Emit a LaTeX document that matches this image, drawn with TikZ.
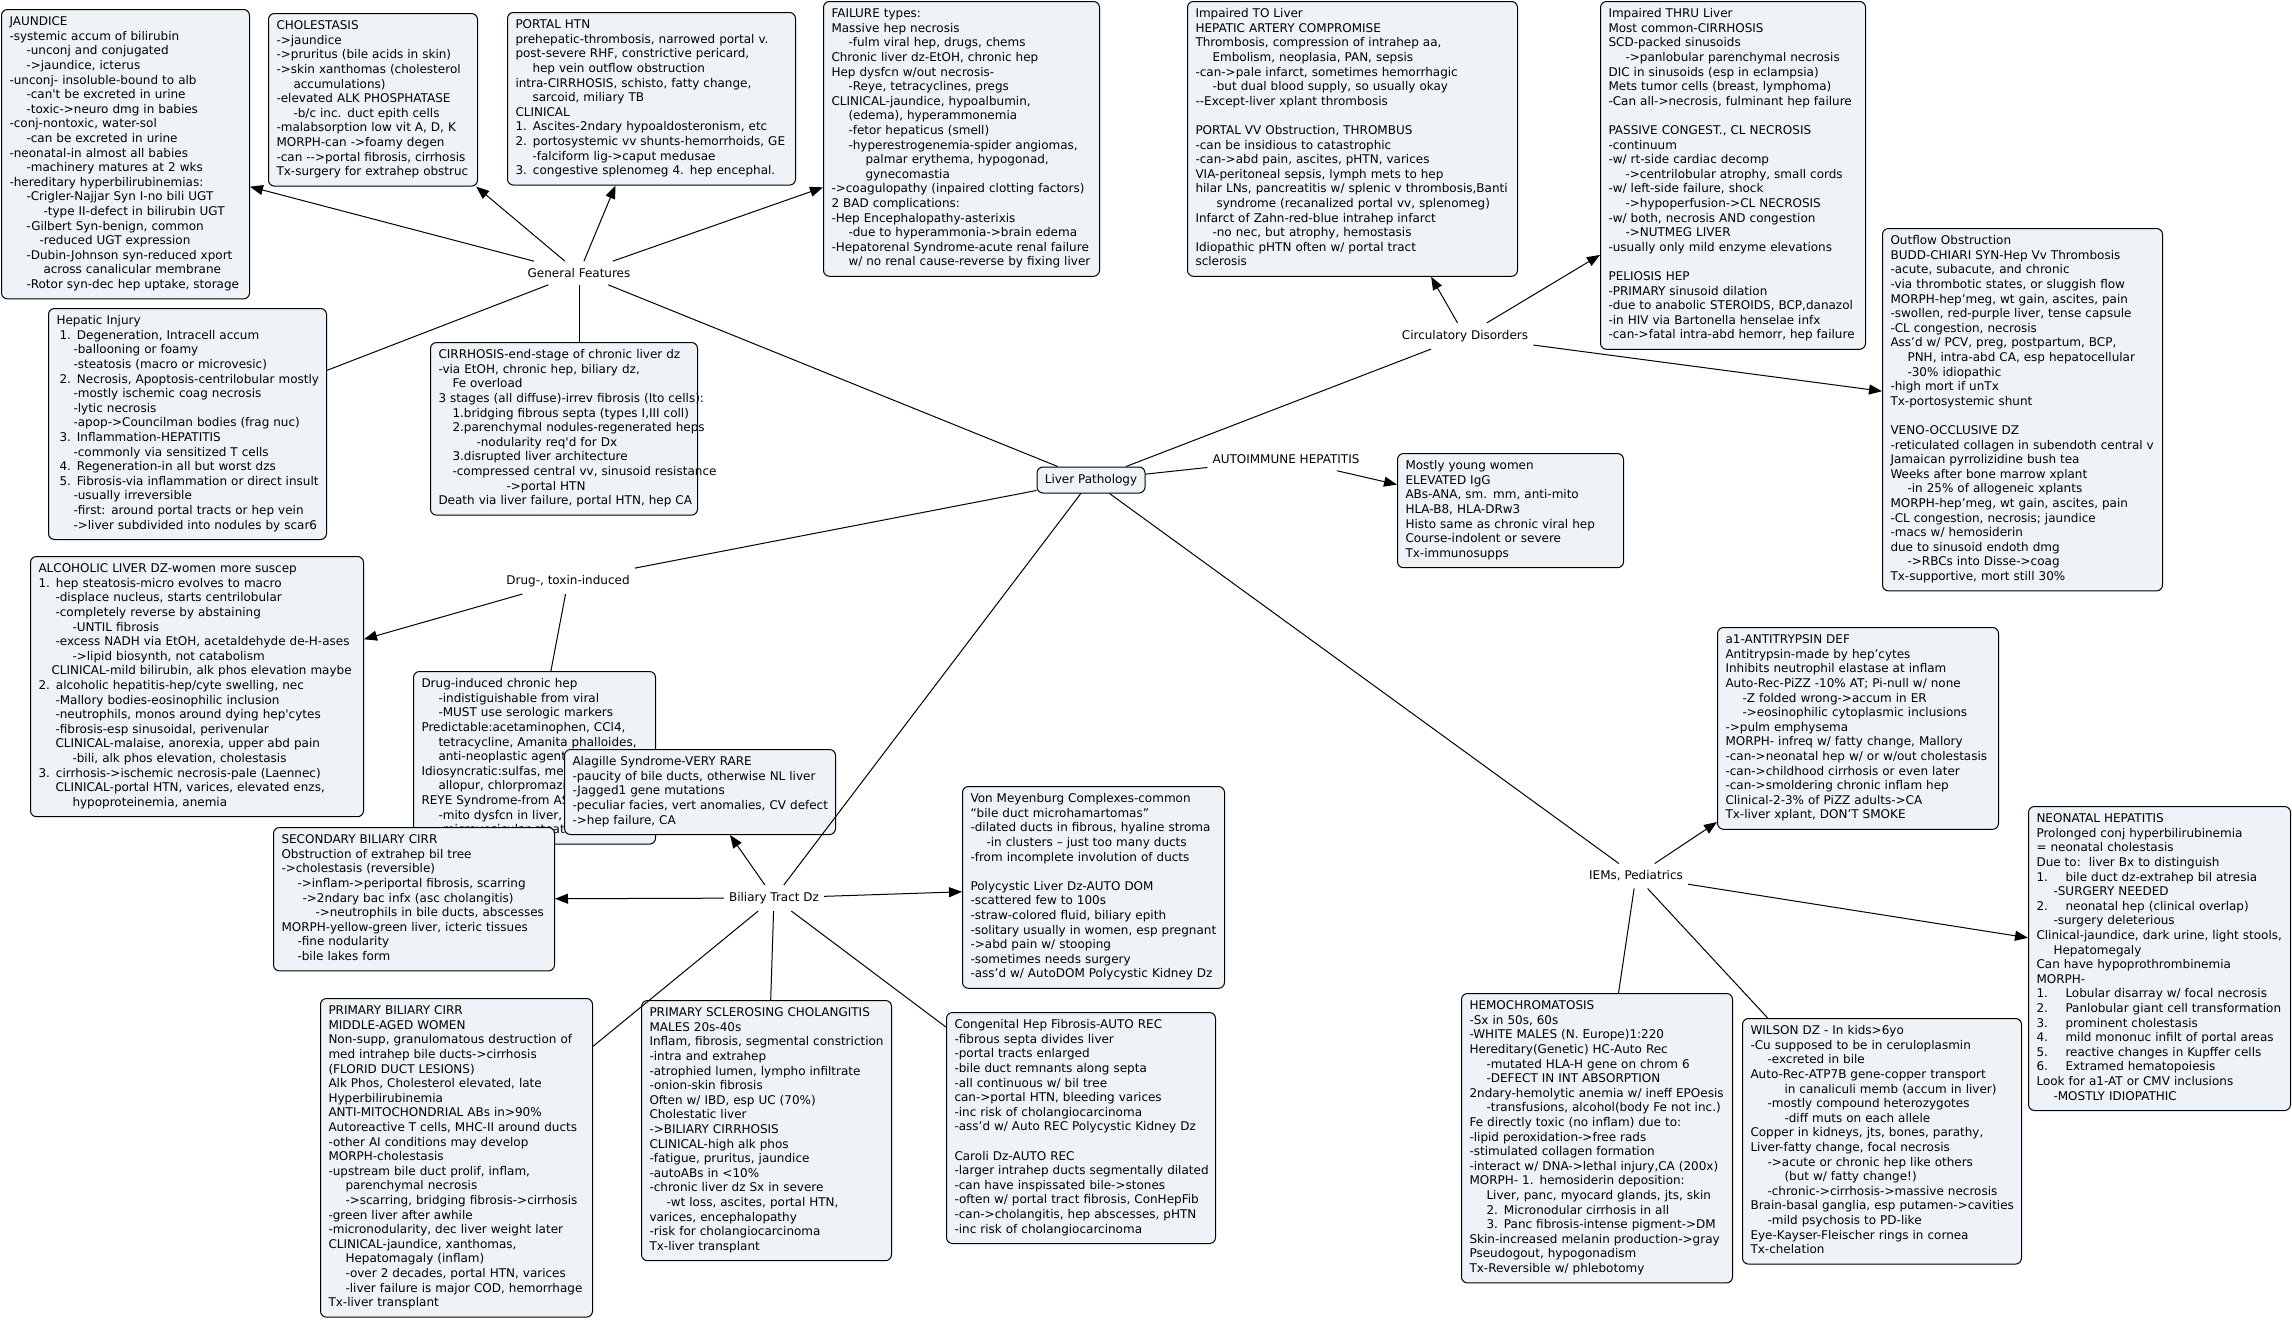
\documentclass[tikz,border=0pt]{standalone}
\usepackage{fontspec}
\newfontfamily\vf{DejaVu Sans}
\usetikzlibrary{arrows.meta}
\definecolor{boxfill}{RGB}{237,243,246}
\newcommand\Ind[1]{\hspace*{#1pt}}
\newcommand\Tb[1]{\begin{tabular}{@{}l@{}}#1\end{tabular}}
\begin{document}
\begin{tikzpicture}[x=1pt,y=-1pt,
  box/.style={draw, rounded corners=6pt, fill=boxfill, line width=1pt, anchor=north west,
    inner xsep=8pt, inner ysep=6pt, align=left, text width=#1pt,
    font=\vf\fontsize{12}{14.6}\selectfont},
  lbl/.style={inner xsep=5pt, inner ysep=7pt, font=\vf\fontsize{12}{14.6}\selectfont},
  con/.style={line width=1pt},
  arr/.style={line width=1pt, -{Triangle[length=13pt,width=10pt]}}]
\fill[white] (0,0) rectangle (2292,1320);
\useasboundingbox (0,0) rectangle (2292,1320);

% ---------- boxes ----------
\node[box=232] (jaun) at (1,9) {\Tb{JAUNDICE\\
-systemic accum of bilirubin\\
\Ind{17}-unconj and conjugated\\
\Ind{17}->jaundice, icterus\\
-unconj- insoluble-bound to alb\\
\Ind{17}-can't be excreted in urine\\
\Ind{17}-toxic->neuro dmg in babies\\
-conj-nontoxic, water-sol\\
\Ind{17}-can be excreted in urine\\
-neonatal-in almost all babies\\
\Ind{17}-machinery matures at 2 wks\\
-hereditary hyperbilirubinemias:\\
\Ind{17}-Crigler-Najjar Syn I-no bili UGT\\
\Ind{34}-type II-defect in bilirubin UGT\\
\Ind{17}-Gilbert Syn-benign, common\\
\Ind{30}-reduced UGT expression\\
\Ind{17}-Dubin-Johnson syn-reduced xport\\
\Ind{34}across canalicular membrane\\
\Ind{17}-Rotor syn-dec hep uptake, storage}};

\node[box=193] (chol) at (268,13) {\Tb{CHOLESTASIS\\
->jaundice\\
->pruritus (bile acids in skin)\\
->skin xanthomas (cholesterol\\
\Ind{17}accumulations)\\
-elevated ALK PHOSPHATASE\\
\Ind{17}-b/c inc. duct epith cells\\
-malabsorption low vit A, D, K\\
MORPH-can ->foamy degen\\
-can -->portal fibrosis, cirrhosis\\
Tx-surgery for extrahep obstruc}};

\node[box=272] (port) at (507,12) {\Tb{PORTAL HTN\\
prehepatic-thrombosis, narrowed portal v.\\
post-severe RHF, constrictive pericard,\\
\Ind{17}hep vein outflow obstruction\\
intra-CIRRHOSIS, schisto, fatty change,\\
\Ind{17}sarcoid, miliary TB\\
CLINICAL\\
1. Ascites-2ndary hypoaldosteronism, etc\\
2. portosystemic vv shunts-hemorrhoids, GE\\
\Ind{17}-falciform lig->caput medusae\\
3. congestive splenomeg 4. hep encephal.}};

\node[box=260] (fail) at (823,1) {\Tb{FAILURE types:\\
Massive hep necrosis\\
\Ind{17}-fulm viral hep, drugs, chems\\
Chronic liver dz-EtOH, chronic hep\\
Hep dysfcn w/out necrosis-\\
\Ind{17}-Reye, tetracyclines, pregs\\
CLINICAL-jaundice, hypoalbumin,\\
\Ind{17}(edema), hyperammonemia\\
\Ind{17}-fetor hepaticus (smell)\\
\Ind{17}-hyperestrogenemia-spider angiomas,\\
\Ind{34}palmar erythema, hypogonad,\\
\Ind{34}gynecomastia\\
->coagulopathy (inpaired clotting factors)\\
2 BAD complications:\\
-Hep Encephalopathy-asterixis\\
\Ind{17}-due to hyperammonia->brain edema\\
-Hepatorenal Syndrome-acute renal failure\\
\Ind{17}w/ no renal cause-reverse by fixing liver}};

\node[box=314] (impto) at (1187,1) {\Tb{Impaired TO Liver\\
HEPATIC ARTERY COMPROMISE\\
Thrombosis, compression of intrahep aa,\\
\Ind{17}Embolism, neoplasia, PAN, sepsis\\
-can->pale infarct, sometimes hemorrhagic\\
\Ind{17}-but dual blood supply, so usually okay\\
--Except-liver xplant thrombosis\\
\\
PORTAL VV Obstruction, THROMBUS\\
-can be insidious to catastrophic\\
-can->abd pain, ascites, pHTN, varices\\
VIA-peritoneal sepsis, lymph mets to hep\\
hilar LNs, pancreatitis w/ splenic v thrombosis,Banti\\
\Ind{21}syndrome (recanalized portal vv, splenomeg)\\
Infarct of Zahn-red-blue intrahep infarct\\
\Ind{17}-no nec, but atrophy, hemostasis\\
Idiopathic pHTN often w/ portal tract\\
sclerosis}};

\node[box=249] (thru) at (1600,1) {\Tb{Impaired THRU Liver\\
Most common-CIRRHOSIS\\
SCD-packed sinusoids\\
\Ind{17}->panlobular parenchymal necrosis\\
DIC in sinusoids (esp in eclampsia)\\
Mets tumor cells (breast, lymphoma)\\
-Can all->necrosis, fulminant hep failure\\
\\
PASSIVE CONGEST., CL NECROSIS\\
-continuum\\
-w/ rt-side cardiac decomp\\
\Ind{17}->centrilobular atrophy, small cords\\
-w/ left-side failure, shock\\
\Ind{17}->hypoperfusion->CL NECROSIS\\
-w/ both, necrosis AND congestion\\
\Ind{17}->NUTMEG LIVER\\
-usually only mild enzyme elevations\\
\\
PELIOSIS HEP\\
-PRIMARY sinusoid dilation\\
-due to anabolic STEROIDS, BCP,danazol\\
-in HIV via Bartonella henselae infx\\
-can->fatal intra-abd hemorr, hep failure}};

\node[box=264] (outf) at (1882,228) {\Tb{Outflow Obstruction\\
BUDD-CHIARI SYN-Hep Vv Thrombosis\\
-acute, subacute, and chronic\\
-via thrombotic states, or sluggish flow\\
MORPH-hep’meg, wt gain, ascites, pain\\
-swollen, red-purple liver, tense capsule\\
-CL congestion, necrosis\\
Ass’d w/ PCV, preg, postpartum, BCP,\\
\Ind{17}PNH, intra-abd CA, esp hepatocellular\\
\Ind{17}-30\% idiopathic\\
-high mort if unTx\\
Tx-portosystemic shunt\\
\\
VENO-OCCLUSIVE DZ\\
-reticulated collagen in subendoth central v\\
Jamaican pyrrolizidine bush tea\\
Weeks after bone marrow xplant\\
\Ind{17}-in 25\% of allogeneic xplants\\
MORPH-hep’meg, wt gain, ascites, pain\\
-CL congestion, necrosis; jaundice\\
-macs w/ hemosiderin\\
due to sinusoid endoth dmg\\
\Ind{17}->RBCs into Disse->coag\\
Tx-supportive, mort still 30\%}};

\node[box=210] (autob) at (1397,453) {\Tb{Mostly young women\\
ELEVATED IgG\\
ABs-ANA, sm. mm, anti-mito\\
HLA-B8, HLA-DRw3\\
Histo same as chronic viral hep\\
Course-indolent or severe\\
Tx-immunosupps}};

\node[box=262] (hinj) at (48,308) {\Tb{Hepatic Injury\\
\Ind{3}1. Degeneration, Intracell accum\\
\Ind{17}-ballooning or foamy\\
\Ind{17}-steatosis (macro or microvesic)\\
\Ind{3}2. Necrosis, Apoptosis-centrilobular mostly\\
\Ind{17}-mostly ischemic coag necrosis\\
\Ind{17}-lytic necrosis\\
\Ind{17}-apop->Councilman bodies (frag nuc)\\
\Ind{3}3. Inflammation-HEPATITIS\\
\Ind{17}-commonly via sensitized T cells\\
\Ind{3}4. Regeneration-in all but worst dzs\\
\Ind{3}5. Fibrosis-via inflammation or direct insult\\
\Ind{17}-usually irreversible\\
\Ind{17}-first: around portal tracts or hep vein\\
\Ind{17}->liver subdivided into nodules by scar6}};

\node[box=251] (cirr) at (430,342) {\Tb{CIRRHOSIS-end-stage of chronic liver dz\\
-via EtOH, chronic hep, biliary dz,\\
\Ind{14}Fe overload\\
3 stages (all diffuse)-irrev fibrosis (Ito cells):\\
\Ind{14}1.bridging fibrous septa (types I,III coll)\\
\Ind{14}2.parenchymal nodules-regenerated heps\\
\Ind{38}-nodularity req'd for Dx\\
\Ind{14}3.disrupted liver architecture\\
\Ind{14}-compressed central vv, sinusoid resistance\\
\Ind{68}->portal HTN\\
Death via liver failure, portal HTN, hep CA}};

\node[box=317] (alc) at (30,556) {\Tb{ALCOHOLIC LIVER DZ-women more suscep\\
1. hep steatosis-micro evolves to macro\\
\Ind{17}-displace nucleus, starts centrilobular\\
\Ind{17}-completely reverse by abstaining\\
\Ind{34}-UNTIL fibrosis\\
\Ind{17}-excess NADH via EtOH, acetaldehyde de-H-ases\\
\Ind{34}->lipid biosynth, not catabolism\\
\Ind{13}CLINICAL-mild bilirubin, alk phos elevation maybe\\
2. alcoholic hepatitis-hep/cyte swelling, nec\\
\Ind{17}-Mallory bodies-eosinophilic inclusion\\
\Ind{17}-neutrophils, monos around dying hep'cytes\\
\Ind{17}-fibrosis-esp sinusoidal, perivenular\\
\Ind{17}CLINICAL-malaise, anorexia, upper abd pain\\
\Ind{34}-bili, alk phos elevation, cholestasis\\
3. cirrhosis->ischemic necrosis-pale (Laennec)\\
\Ind{17}CLINICAL-portal HTN, varices, elevated enzs,\\
\Ind{34}hypoproteinemia, anemia}};

\node[box=226] (dind) at (413,671) {\Tb{Drug-induced chronic hep\\
\Ind{17}-indistiguishable from viral\\
\Ind{17}-MUST use serologic markers\\
Predictable:acetaminophen, CCl4,\\
\Ind{17}tetracycline, Amanita phalloides,\\
\Ind{17}anti-neoplastic agents\\
Idiosyncratic:sulfas, methyldopa,\\
\Ind{17}allopur, chlorpromazine\\
REYE Syndrome-from ASA\\
\Ind{17}-mito dysfcn in liver, brain\\
\Ind{17}-microvesicular steatosis}};

\node[box=265] (sec) at (273,827) {\Tb{SECONDARY BILIARY CIRR\\
Obstruction of extrahep bil tree\\
->cholestasis (reversible)\\
\Ind{16}->inflam->periportal fibrosis, scarring\\
\Ind{21}->2ndary bac infx (asc cholangitis)\\
\Ind{34}->neutrophils in bile ducts, abscesses\\
MORPH-yellow-green liver, icteric tissues\\
\Ind{16}-fine nodularity\\
\Ind{16}-bile lakes form}};

\node[box=255] (alag) at (564,749) {\Tb{Alagille Syndrome-VERY RARE\\
-paucity of bile ducts, otherwise NL liver\\
-Jagged1 gene mutations\\
-peculiar facies, vert anomalies, CV defect\\
->hep failure, CA}};

\node[box=246] (vonm) at (962,786) {\Tb{Von Meyenburg Complexes-common\\
“bile duct microhamartomas”\\
-dilated ducts in fibrous, hyaline stroma\\
\Ind{16}-in clusters – just too many ducts\\
-from incomplete involution of ducts\\
\\
Polycystic Liver Dz-AUTO DOM\\
-scattered few to 100s\\
-straw-colored fluid, biliary epith\\
-solitary usually in women, esp pregnant\\
->abd pain w/ stooping\\
-sometimes needs surgery\\
-ass’d w/ AutoDOM Polycystic Kidney Dz}};

\node[box=253] (cong) at (946,1012) {\Tb{Congenital Hep Fibrosis-AUTO REC\\
-fibrous septa divides liver\\
-portal tracts enlarged\\
-bile duct remnants along septa\\
-all continuous w/ bil tree\\
can->portal HTN, bleeding varices\\
-inc risk of cholangiocarcinoma\\
-ass’d w/ Auto REC Polycystic Kidney Dz\\
\\
Caroli Dz-AUTO REC\\
-larger intrahep ducts segmentally dilated\\
-can have inspissated bile->stones\\
-often w/ portal tract fibrosis, ConHepFib\\
-can->cholangitis, hep abscesses, pHTN\\
-inc risk of cholangiocarcinoma}};

\node[box=256] (pbc) at (320,998) {\Tb{PRIMARY BILIARY CIRR\\
MIDDLE-AGED WOMEN\\
Non-supp, granulomatous destruction of\\
med intrahep bile ducts->cirrhosis\\
(FLORID DUCT LESIONS)\\
Alk Phos, Cholesterol elevated, late\\
Hyperbilirubinemia\\
ANTI-MITOCHONDRIAL ABs in>90\%\\
Autoreactive T cells, MHC-II around ducts\\
-other AI conditions may develop\\
MORPH-cholestasis\\
-upstream bile duct prolif, inflam,\\
\Ind{17}parenchymal necrosis\\
\Ind{17}->scarring, bridging fibrosis->cirrhosis\\
-green liver after awhile\\
-micronodularity, dec liver weight later\\
CLINICAL-jaundice, xanthomas,\\
\Ind{17}Hepatomagaly (inflam)\\
\Ind{17}-over 2 decades, portal HTN, varices\\
\Ind{17}-liver failure is major COD, hemorrhage\\
Tx-liver transplant}};

\node[box=234] (psc) at (641,1000) {\Tb{PRIMARY SCLEROSING CHOLANGITIS\\
MALES 20s-40s\\
Inflam, fibrosis, segmental constriction\\
-intra and extrahep\\
-atrophied lumen, lympho infiltrate\\
-onion-skin fibrosis\\
Often w/ IBD, esp UC (70\%)\\
Cholestatic liver\\
->BILIARY CIRRHOSIS\\
CLINICAL-high alk phos\\
-fatigue, pruritus, jaundice\\
-autoABs in <10\%\\
-chronic liver dz Sx in severe\\
\Ind{17}-wt loss, ascites, portal HTN,\\
varices, encephalopathy\\
-risk for cholangiocarcinoma\\
Tx-liver transplant}};

\node[box=265] (aat) at (1717,627) {\Tb{a1-ANTITRYPSIN DEF\\
Antitrypsin-made by hep’cytes\\
Inhibits neutrophil elastase at inflam\\
Auto-Rec-PiZZ -10\% AT; Pi-null w/ none\\
\Ind{17}-Z folded wrong->accum in ER\\
\Ind{17}->eosinophilic cytoplasmic inclusions\\
->pulm emphysema\\
MORPH- infreq w/ fatty change, Mallory\\
-can->neonatal hep w/ or w/out cholestasis\\
-can->childhood cirrhosis or even later\\
-can->smoldering chronic inflam hep\\
Clinical-2-3\% of PiZZ adults->CA\\
Tx-liver xplant, DON’T SMOKE}};

\node[box=246] (neo) at (2028,806) {\Tb{NEONATAL HEPATITIS\\
Prolonged conj hyperbilirubinemia\\
= neonatal cholestasis\\
Due to:\ \ liver Bx to distinguish\\
\makebox[29pt][l]{1.}bile duct dz-extrahep bil atresia\\
\Ind{17}-SURGERY NEEDED\\
\makebox[29pt][l]{2.}neonatal hep (clinical overlap)\\
\Ind{17}-surgery deleterious\\
Clinical-jaundice, dark urine, light stools,\\
\Ind{17}Hepatomegaly\\
Can have hypoprothrombinemia\\
MORPH-\\
\makebox[29pt][l]{1.}Lobular disarray w/ focal necrosis\\
\makebox[29pt][l]{2.}Panlobular giant cell transformation\\
\makebox[29pt][l]{3.}prominent cholestasis\\
\makebox[29pt][l]{4.}mild mononuc infilt of portal areas\\
\makebox[29pt][l]{5.}reactive changes in Kupffer cells\\
\makebox[29pt][l]{6.}Extramed hematopoiesis\\
Look for a1-AT or CMV inclusions\\
\Ind{17}-MOSTLY IDIOPATHIC}};

\node[box=255] (hemo) at (1461,993) {\Tb{HEMOCHROMATOSIS\\
-Sx in 50s, 60s\\
-WHITE MALES (N. Europe)1:220\\
Hereditary(Genetic) HC-Auto Rec\\
\Ind{17}-mutated HLA-H gene on chrom 6\\
\Ind{17}-DEFECT IN INT ABSORPTION\\
2ndary-hemolytic anemia w/ ineff EPOesis\\
\Ind{17}-transfusions, alcohol(body Fe not inc.)\\
Fe directly toxic (no inflam) due to:\\
-lipid peroxidation->free rads\\
-stimulated collagen formation\\
-interact w/ DNA->lethal injury,CA (200x)\\
MORPH- 1. hemosiderin deposition:\\
\Ind{17}Liver, panc, myocard glands, jts, skin\\
\Ind{17}2. Micronodular cirrhosis in all\\
\Ind{17}3. Panc fibrosis-intense pigment->DM\\
Skin-increased melanin production->gray\\
Pseudogout, hypogonadism\\
Tx-Reversible w/ phlebotomy}};

\node[box=263] (wil) at (1742,1018) {\Tb{WILSON DZ - In kids>6yo\\
-Cu supposed to be in ceruloplasmin\\
\Ind{17}-excreted in bile\\
Auto-Rec-ATP7B gene-copper transport\\
\Ind{34}in canaliculi memb (accum in liver)\\
\Ind{17}-mostly compound heterozygotes\\
\Ind{34}-diff muts on each allele\\
Copper in kidneys, jts, bones, parathy,\\
Liver-fatty change, focal necrosis\\
\Ind{17}->acute or chronic hep like others\\
\Ind{34}(but w/ fatty change!)\\
\Ind{17}-chronic->cirrhosis->massive necrosis\\
Brain-basal ganglia, esp putamen->cavities\\
\Ind{17}-mild psychosis to PD-like\\
Eye-Kayser-Fleischer rings in cornea\\
Tx-chelation}};

% ---------- centre and linking labels ----------
\node[draw, rounded corners=6pt, fill=boxfill, line width=1pt, minimum width=108pt,
  minimum height=26pt, inner sep=2pt, font=\vf\fontsize{12}{14.6}\selectfont]
  (liver) at (1091,480) {Liver Pathology};
\node[lbl] (gen)  at (579,273)  {General Features};
\node[lbl] (circ) at (1465,336) {Circulatory Disorders};
\node[lbl] (auto) at (1286,459) {AUTOIMMUNE HEPATITIS};
\node[lbl] (drug) at (568,581)  {Drug-, toxin-induced};
\node[lbl] (bil)  at (774,898)  {Biliary Tract Dz};
\node[lbl] (iems) at (1636,876) {IEMs, Pediatrics};

% ---------- connectors ----------
\draw[con] (liver) -- (gen);
\draw[con] (liver) -- (circ);
\draw[con] (liver) -- (auto);
\draw[con] (liver) -- (drug);
\draw[con] (liver) -- (bil);
\draw[con] (liver) -- (iems);

\draw[arr] (gen) -- (jaun);
\draw[arr] (gen) -- (chol);
\draw[arr] (gen) -- (port);
\draw[arr] (gen) -- (fail);
\draw[con] (gen) -- (hinj);
\draw[con] (gen.south) -- (gen.south |- cirr.north);

\draw[arr] (circ) -- (impto);
\draw[arr] (circ) -- (thru);
\draw[arr] (circ) -- (outf);

\draw[arr] (auto) -- (autob);

\draw[arr] (drug) -- (alc);
\draw[con] (drug) -- (dind);

\draw[arr] (bil) -- (sec);
\draw[arr] (bil) -- (alag);
\draw[arr] (bil) -- (vonm);
\draw[con] (bil) -- (pbc);
\draw[con] (bil) -- (psc);
\draw[con] (bil) -- (cong);

\draw[arr] (iems) -- (aat);
\draw[con] (iems) -- (hemo);
\draw[con] (iems) -- (wil);
\draw[arr] (iems) -- (neo);
\end{tikzpicture}
\end{document}
